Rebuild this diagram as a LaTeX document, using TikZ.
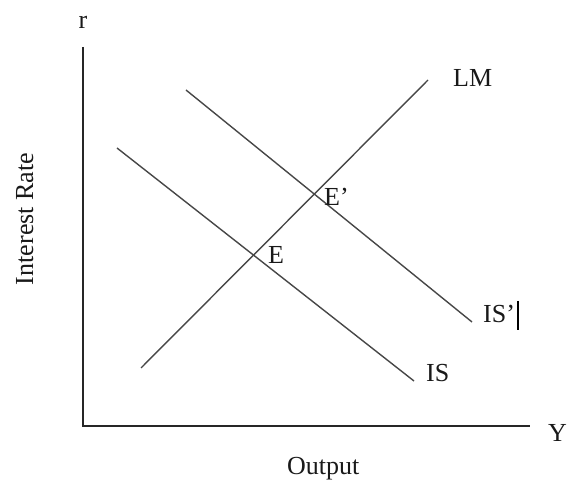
\documentclass[tikz,border=0pt]{standalone}
\usepackage{fontspec}
\setmainfont{Liberation Serif}
\begin{document}
\begin{tikzpicture}[x=1pt,y=-1pt,
  axis/.style={draw=black!85,line width=1.6pt},
  curve/.style={draw=black!72,line width=1.4pt},
  lbl/.style={font=\fontsize{26}{30}\selectfont,inner sep=0pt,text=black!90}]
\useasboundingbox (0,0) rectangle (568,481);
% axes
\coordinate (O) at (83,426);
\coordinate (ytop) at (83,47);
\coordinate (xend) at (530,426);
\draw[axis] (ytop) -- (O) -- (xend);
% curves
\coordinate (lm1) at (141,368);
\coordinate (lm2) at (428,80);
\coordinate (is1) at (117,148);
\coordinate (is2) at (414,381);
\coordinate (isp1) at (186,90);
\coordinate (isp2) at (472,322);
\draw[curve] (lm1) -- (lm2);
\draw[curve] (is1) -- (is2);
\draw[curve] (isp1) -- (isp2);
% labels
\node[lbl,anchor=base] (r) at (83,29) {r};
\node[lbl,anchor=base west] (Y) at (548,441) {Y};
\node[lbl,anchor=base west] (out) at (287,474) {Output};
\node[lbl,anchor=base,rotate=90] (ir) at (33,219) {Interest Rate};
\node[lbl,anchor=base west] (LM) at (453,87) {LM};
\node[lbl,anchor=base west] (IS) at (426,381) {IS};
\node[lbl,anchor=base west] (ISp) at (483,323) {IS’};
\node[lbl,anchor=base west] (E) at (268,264) {E};
\node[lbl,anchor=base west] (Ep) at (324,206) {E’};
\coordinate (bar1) at (518,301);
\coordinate (bar2) at (518,330);
\draw[black,line width=2.4pt] (bar1) -- (bar2);
\end{tikzpicture}
\end{document}
